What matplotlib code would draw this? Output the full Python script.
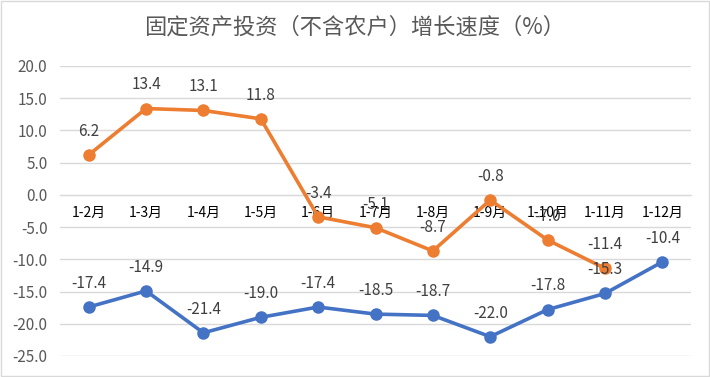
import matplotlib
matplotlib.use("Agg")
import matplotlib.pyplot as plt
from matplotlib.patches import Rectangle

plt.rcParams['font.family'] = ['Noto Sans CJK SC', 'DejaVu Sans']

categories = ['1-2月', '1-3月', '1-4月', '1-5月', '1-6月', '1-7月', '1-8月', '1-9月', '1-10月', '1-11月', '1-12月']
orange_vals = [6.2, 13.4, 13.1, 11.8, -3.4, -5.1, -8.7, -0.8, -7.0, -11.4]
blue_vals = [-17.4, -14.9, -21.4, -19.0, -17.4, -18.5, -18.7, -22.0, -17.8, -15.3, -10.4]
y_ticks = [20, 15, 10, 5, 0, -5, -10, -15, -20, -25]
title = '固定资产投资（不含农户）增长速度（%）'

orange = '#ED7D31'
blue = '#4472C4'
txt = '#404040'

fig = plt.figure(figsize=(7.10, 3.77), dpi=100)
fig.patches.append(Rectangle((0.002, 0.003), 0.996, 0.994, transform=fig.transFigure,
                             fill=False, edgecolor='#D9D9D9', linewidth=1))
ax = fig.add_axes([60/710, 1-356/377, 631/710, 290/377])

x = list(range(len(categories)))
ax.plot(x[:len(blue_vals)], blue_vals, color=blue, lw=2.6, marker='o', ms=8, zorder=3)
ax.plot(x[:len(orange_vals)], orange_vals, color=orange, lw=2.6, marker='o', ms=8, zorder=4)

for xi, v in zip(x, orange_vals):
    ax.annotate(f'{v:.1f}', (xi, v), xytext=(0, 17), textcoords='offset points',
                ha='center', va='center', fontsize=11, color=txt, zorder=5)
for xi, v in zip(x, blue_vals):
    ax.annotate(f'{v:.1f}', (xi, v), xytext=(0, 17), textcoords='offset points',
                ha='center', va='center', fontsize=11, color=txt, zorder=5)

ax.set_xlim(-0.5, len(categories) - 0.5)
ax.set_ylim(-25, 20)
ax.set_yticks(y_ticks)
ax.set_yticklabels([f'{t:.1f}' for t in y_ticks], fontsize=11, color='#595959')
ax.yaxis.grid(True, color='#D9D9D9', lw=1)
ax.set_axisbelow(True)
ax.tick_params(axis='y', length=0, pad=9)

ax.set_xticks(x)
ax.set_xticklabels(categories, fontsize=11, color='#595959')
ax.spines['bottom'].set_position(('data', 0))
ax.spines['bottom'].set_color('#D9D9D9')
ax.tick_params(axis='x', length=0, pad=8)
for s in ['top', 'right', 'left']:
    ax.spines[s].set_visible(False)

fig.text(0.5, 1-27/377, title, ha='center', va='center', fontsize=16, color='#595959')

fig.savefig('out.png', dpi=100)
